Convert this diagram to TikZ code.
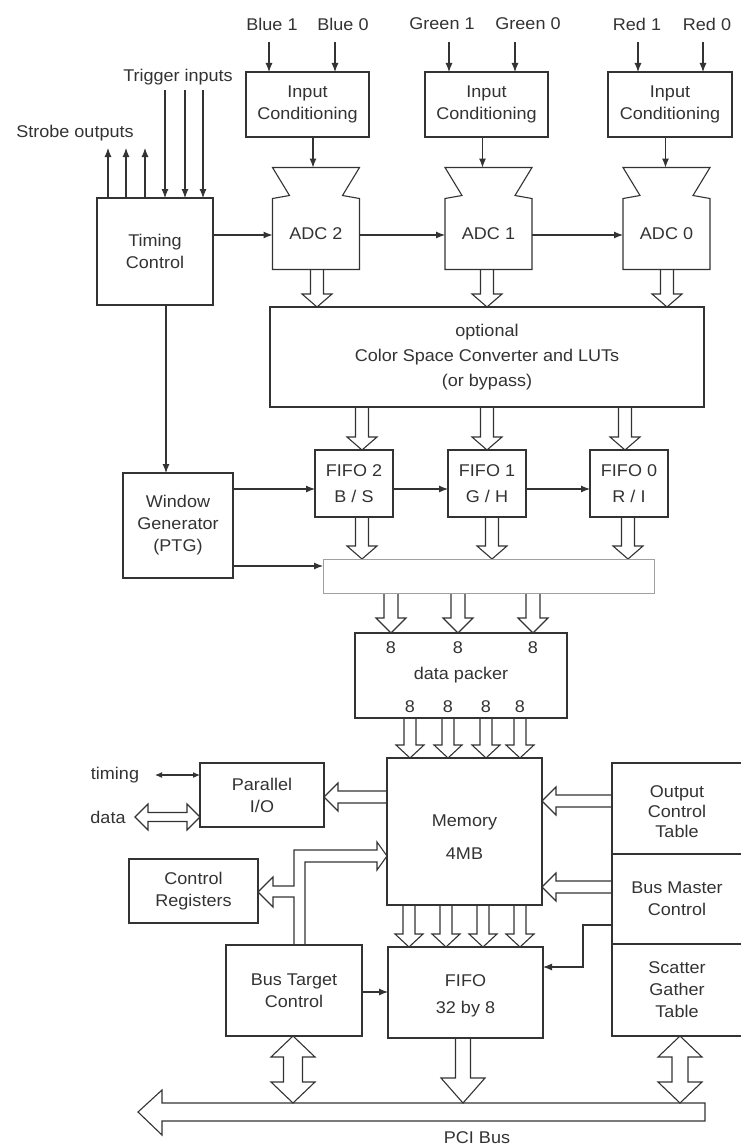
\documentclass[tikz,border=0pt]{standalone}
\usepackage{fontspec}
\setmainfont{Liberation Sans}[FakeStretch=1.06]
\usetikzlibrary{arrows.meta,calc}
\definecolor{ink}{HTML}{333333}
\definecolor{faint}{HTML}{A0A0A0}
\pgfdeclarelayer{bg}
\pgfsetlayers{bg,main}
\newcommand\tf{\fontsize{17}{22}\selectfont}
% fat arrow pointing down: x, from anchor, to anchor, shaft half, head half, head length
\newcommand\FatDown[6]{%
 \draw[fat] let \p1=(#2), \p2=(#3) in
  ({#1pt-#4pt},\y1) -- ({#1pt-#4pt},{\y2+#6pt}) -- ({#1pt-#5pt},{\y2+#6pt}) -- (#1pt,\y2)
  -- ({#1pt+#5pt},{\y2+#6pt}) -- ({#1pt+#4pt},{\y2+#6pt}) -- ({#1pt+#4pt},\y1);}
% fat arrow pointing left: y, from anchor (right), to anchor (tip), shaft half, head half, head length
\newcommand\FatLeft[6]{%
 \draw[fat] let \p1=(#2), \p2=(#3) in
  (\x1,{-#1pt+#4pt}) -- ({\x2+#6pt},{-#1pt+#4pt}) -- ({\x2+#6pt},{-#1pt+#5pt}) -- (\x2,{-#1pt})
  -- ({\x2+#6pt},{-#1pt-#5pt}) -- ({\x2+#6pt},{-#1pt-#4pt}) -- (\x1,{-#1pt-#4pt});}
% fat double arrow vertical: x, top tip anchor, bottom tip anchor, shaft half, head half, head length
\newcommand\FatUpDown[6]{%
 \draw[fat] let \p1=(#2), \p2=(#3) in
  (#1pt,\y1) -- ({#1pt+#5pt},{\y1-#6pt}) -- ({#1pt+#4pt},{\y1-#6pt}) -- ({#1pt+#4pt},{\y2+#6pt})
  -- ({#1pt+#5pt},{\y2+#6pt}) -- (#1pt,\y2) -- ({#1pt-#5pt},{\y2+#6pt}) -- ({#1pt-#4pt},{\y2+#6pt})
  -- ({#1pt-#4pt},{\y1-#6pt}) -- ({#1pt-#5pt},{\y1-#6pt}) -- cycle;}
% fat double arrow horizontal: y, left tip anchor, right tip anchor, shaft half, head half, head length
\newcommand\FatLR[6]{%
 \draw[fat] let \p1=(#2), \p2=(#3) in
  (\x1,{-#1pt}) -- ({\x1+#6pt},{-#1pt+#5pt}) -- ({\x1+#6pt},{-#1pt+#4pt}) -- ({\x2-#6pt},{-#1pt+#4pt})
  -- ({\x2-#6pt},{-#1pt+#5pt}) -- (\x2,{-#1pt}) -- ({\x2-#6pt},{-#1pt-#5pt}) -- ({\x2-#6pt},{-#1pt-#4pt})
  -- ({\x1+#6pt},{-#1pt-#4pt}) -- ({\x1+#6pt},{-#1pt-#5pt}) -- cycle;}
\newcommand\adcshape[1]{%
 \draw[ink, line width=1.1pt, line join=miter] (#1.north west) -- ++(17,-3) -- ++(-17,-28)
  -- ($(#1.north east)+(0,-31)$) -- ++(-17,28) -- ++(17,3) -- (#1.south east) -- (#1.south west) -- cycle;
 \coordinate (#1f) at ($(#1.north)+(0,-31)$);}
\tikzset{
 box/.style={draw=ink, line width=1.1pt, inner sep=0pt, outer sep=0pt, align=center, font=\tf, text=ink},
 adcbox/.style={inner sep=0pt, outer sep=0pt, font=\tf, text=ink, minimum width=87, minimum height=71},
 lbl/.style={inner sep=0pt, font=\tf, text=ink},
 conn/.style={draw=ink, line width=1.1pt, -{Latex[length=9pt,width=7pt]}},
 fat/.style={draw=ink, line width=1.1pt, fill=white, line join=miter},
}
\begin{document}
\begin{tikzpicture}[x=1pt,y=-1pt]
\useasboundingbox (0,0) rectangle (740,1148);

% ---- top input labels
\node[lbl] (lb1) at (272,24) {Blue 1};
\node[lbl] (lb0) at (343,24) {Blue 0};
\node[lbl] (lg1) at (442,24) {Green 1};
\node[lbl] (lg0) at (528,24) {Green 0};
\node[lbl] (lr1) at (637,24) {Red 1};
\node[lbl] (lr0) at (707,24) {Red 0};
\coordinate (ib1) at (269,42);
\coordinate (ib0) at (335,42);
\coordinate (ig1) at (449,42);
\coordinate (ig0) at (515,42);
\coordinate (ir1) at (638,42);
\coordinate (ir0) at (703,42);

% ---- input conditioning
\node[box, minimum width=123, minimum height=65] (ic1) at (307.5,104.5) {Input\\Conditioning};
\node[box, minimum width=123, minimum height=65] (ic2) at (486.5,104.5) {Input\\Conditioning};
\node[box, minimum width=124, minimum height=65] (ic3) at (670,104.5) {Input\\Conditioning};

% ---- ADCs
\node[adcbox] (adc2) at (316,234) {ADC 2};
\node[adcbox] (adc1) at (488.5,234) {ADC 1};
\node[adcbox] (adc0) at (666.5,234) {ADC 0};
\adcshape{adc2}
\adcshape{adc1}
\adcshape{adc0}

% ---- timing control
\node[box, minimum width=116, minimum height=107] (tc) at (155,251.5) {Timing\\Control};
\node[lbl] (strobe) at (75,133) {Strobe outputs};
\node[lbl] (trig) at (178,77) {Trigger inputs};

% ---- color space converter
\node[box, minimum width=434, minimum height=100] (csc) at (487,357)
  {optional\\[3pt]Color Space Converter and LUTs\\[3pt](or bypass)};

% ---- FIFOs
\node[box, minimum width=78, minimum height=67] (fifo2) at (354,483.5) {FIFO 2\\[4pt]B / S};
\node[box, minimum width=78, minimum height=67] (fifo1) at (487,483.5) {FIFO 1\\[4pt]G / H};
\node[box, minimum width=78, minimum height=67] (fifo0) at (629,483.5) {FIFO 0\\[4pt]R / I};

% ---- window generator
\node[box, minimum width=110, minimum height=105] (wg) at (178,525.5) {Window\\Generator\\(PTG)};

% ---- blank bar
\node[draw=faint, line width=0.7pt, inner sep=0pt, outer sep=0pt, minimum width=331, minimum height=34] (bar) at (488.5,576) {};

% ---- data packer
\node[box, minimum width=212, minimum height=85] (dp) at (461,675.5) {data packer};
\node[lbl] (n1) at (391,648) {8};
\node[lbl] (n2) at (458,648) {8};
\node[lbl] (n3) at (533,648) {8};
\node[lbl] (m1) at (410,707) {8};
\node[lbl] (m2) at (448,707) {8};
\node[lbl] (m3) at (486,707) {8};
\node[lbl] (m4) at (520,707) {8};

% ---- memory
\node[box, minimum width=155, minimum height=147] (mem) at (464.5,831.5)
  {\rule{0pt}{23pt}Memory\\[11pt]4MB};

% ---- right tables
\node[box, minimum width=130, minimum height=91] (oct) at (677,808.5) {\rule{0pt}{18pt}Output\\[-2pt]Control\\[-2pt]Table};
\node[box, minimum width=130, minimum height=90] (bmc) at (677,899) {Bus Master\\Control};
\node[box, minimum width=130, minimum height=92] (sgt) at (677,990) {Scatter\\Gather\\Table};

% ---- left blocks
\node[box, minimum width=124, minimum height=64] (pio) at (262,795) {Parallel\\I/O};
\node[box, minimum width=129, minimum height=64] (creg) at (193.5,891) {Control\\Registers};
\node[box, minimum width=136, minimum height=91] (btc) at (294,990.5) {Bus Target\\Control};
\node[box, minimum width=155, minimum height=91] (fifo) at (465.5,992.5) {\rule{0pt}{18pt}FIFO\\[5pt]32 by 8};
\node[lbl] (timinglbl) at (115,775) {timing};
\node[lbl] (datalbl) at (108,817) {data};
\coordinate (timingend) at (155,775);
\coordinate (dataend) at (135,817);

% ---- PCI bus
\node[inner sep=0pt, outer sep=0pt, minimum width=543, minimum height=18] (pci) at (433.5,1112) {};
\node[lbl] (pcilbl) at (477,1138) {PCI Bus};

% ================= thin connectors
\draw[conn] (ib1) -- (ib1 |- ic1.north);
\draw[conn] (ib0) -- (ib0 |- ic1.north);
\draw[conn] (ig1) -- (ig1 |- ic2.north);
\draw[conn] (ig0) -- (ig0 |- ic2.north);
\draw[conn] (ir1) -- (ir1 |- ic3.north);
\draw[conn] (ir0) -- (ir0 |- ic3.north);
\draw[conn] ([xshift=-3pt]adc2f |- ic1.south) -- ([xshift=-3pt]adc2f);
\draw[conn] ([xshift=-6pt]adc1f |- ic2.south) -- ([xshift=-6pt]adc1f);
\draw[conn] ([xshift=-1pt]adc0f |- ic3.south) -- ([xshift=-1pt]adc0f);

\foreach \dx in {-47,-29,-10} \draw[conn] ([xshift=\dx pt]tc.north) -- ++(0,-50);
\foreach \dx in {10,30,48} \draw[conn] ([xshift=\dx pt]tc.north) ++(0,-108) -- ([xshift=\dx pt]tc.north);

\draw[conn] (tc.east |- 0,235) -- (adc2.west |- 0,235);
\draw[conn] (adc2.east |- 0,235) -- (adc1.west |- 0,235);
\draw[conn] (adc1.east |- 0,235) -- (adc0.west |- 0,235);
\draw[conn] ([xshift=11pt]tc.south) -- ([xshift=11pt]tc.south |- wg.north);
\draw[conn] (wg.east |- 0,489) -- (fifo2.west |- 0,489);
\draw[conn] (fifo2.east |- 0,489) -- (fifo1.west |- 0,489);
\draw[conn] (fifo1.east |- 0,489) -- (fifo0.west |- 0,489);
\draw[conn] (wg.east |- 0,566) -- (bar.west |- 0,566);

\draw[draw=ink, line width=1.1pt, {Latex[length=7pt,width=6pt]}-{Latex[length=7pt,width=6pt]}] (timingend) -- (pio.west |- timingend);
\draw[conn] (bmc.west |- 0,925) -- (583,925) -- (583,967) -- (fifo.east |- 0,967);
\draw[conn] (btc.east |- 0,992) -- (fifo.west |- 0,992);

% ================= fat arrows
\begin{pgfonlayer}{bg}
\fill[white] (0,0) rectangle (740,1148);
\FatDown{317}{adc2.south}{csc.north}{6.5}{15}{13}
\FatDown{487}{adc1.south}{csc.north}{6.5}{15}{13}
\FatDown{667}{adc0.south}{csc.north}{6.5}{15}{13}
\FatDown{362}{csc.south}{fifo2.north}{6.5}{15}{13}
\FatDown{487}{csc.south}{fifo1.north}{6.5}{15}{13}
\FatDown{625}{csc.south}{fifo0.north}{6.5}{15}{13}
\FatDown{362}{fifo2.south}{bar.north}{6.5}{15}{13}
\FatDown{492}{fifo1.south}{bar.north}{6.5}{15}{13}
\FatDown{628}{fifo0.south}{bar.north}{6.5}{15}{13}
\FatDown{391}{bar.south}{dp.north}{7}{15}{15}
\FatDown{458}{bar.south}{dp.north}{7}{15}{15}
\FatDown{533}{bar.south}{dp.north}{7}{15}{15}
\FatDown{410}{dp.south}{mem.north}{6}{14}{13}
\FatDown{448}{dp.south}{mem.north}{6}{14}{13}
\FatDown{486}{dp.south}{mem.north}{6}{14}{13}
\FatDown{520}{dp.south}{mem.north}{6}{14}{13}
\FatDown{409}{mem.south}{fifo.north}{6}{14}{13}
\FatDown{446}{mem.south}{fifo.north}{6}{14}{13}
\FatDown{483}{mem.south}{fifo.north}{6}{14}{13}
\FatDown{520}{mem.south}{fifo.north}{6}{14}{13}
\FatLeft{797}{mem.west}{pio.east}{6}{14}{14}
\FatLeft{801}{oct.west}{mem.east}{6}{14}{14}
\FatLeft{887}{bmc.west}{mem.east}{6}{14}{14}
\FatLR{817}{dataend}{pio.west}{4.5}{13}{13}
% bus target control to memory and control registers
\draw[fat] let \p1=(btc.north), \p2=(creg.east), \p3=(mem.west) in
 (305pt,\y1) -- (305pt,-862pt) -- ({\x3-10pt},-862pt) -- ({\x3-10pt},-870pt) -- (\x3,-856pt)
 -- ({\x3-10pt},-842pt) -- ({\x3-10pt},-850pt) -- (294pt,-850pt) -- (294pt,-886pt)
 -- ({\x2+15pt},-886pt) -- ({\x2+15pt},-877pt) -- (\x2,-892pt) -- ({\x2+15pt},-907pt)
 -- ({\x2+15pt},-897pt) -- (294pt,-897pt) -- (294pt,\y1);
% PCI bus
\draw[fat] (pci.north east) -- (pci.north west) -- ++(0,-13) -- ($(pci.west)+(-24,0)$)
 -- ($(pci.south west)+(0,14)$) -- (pci.south west) -- (pci.south east) -- cycle;
\FatDown{463}{fifo.south}{pci.north}{7.5}{22}{25}
\FatUpDown{293}{btc.south}{pci.north}{9.5}{22}{21}
\FatUpDown{680}{sgt.south}{pci.north}{8}{22}{21}
\end{pgfonlayer}
\end{tikzpicture}
\end{document}
